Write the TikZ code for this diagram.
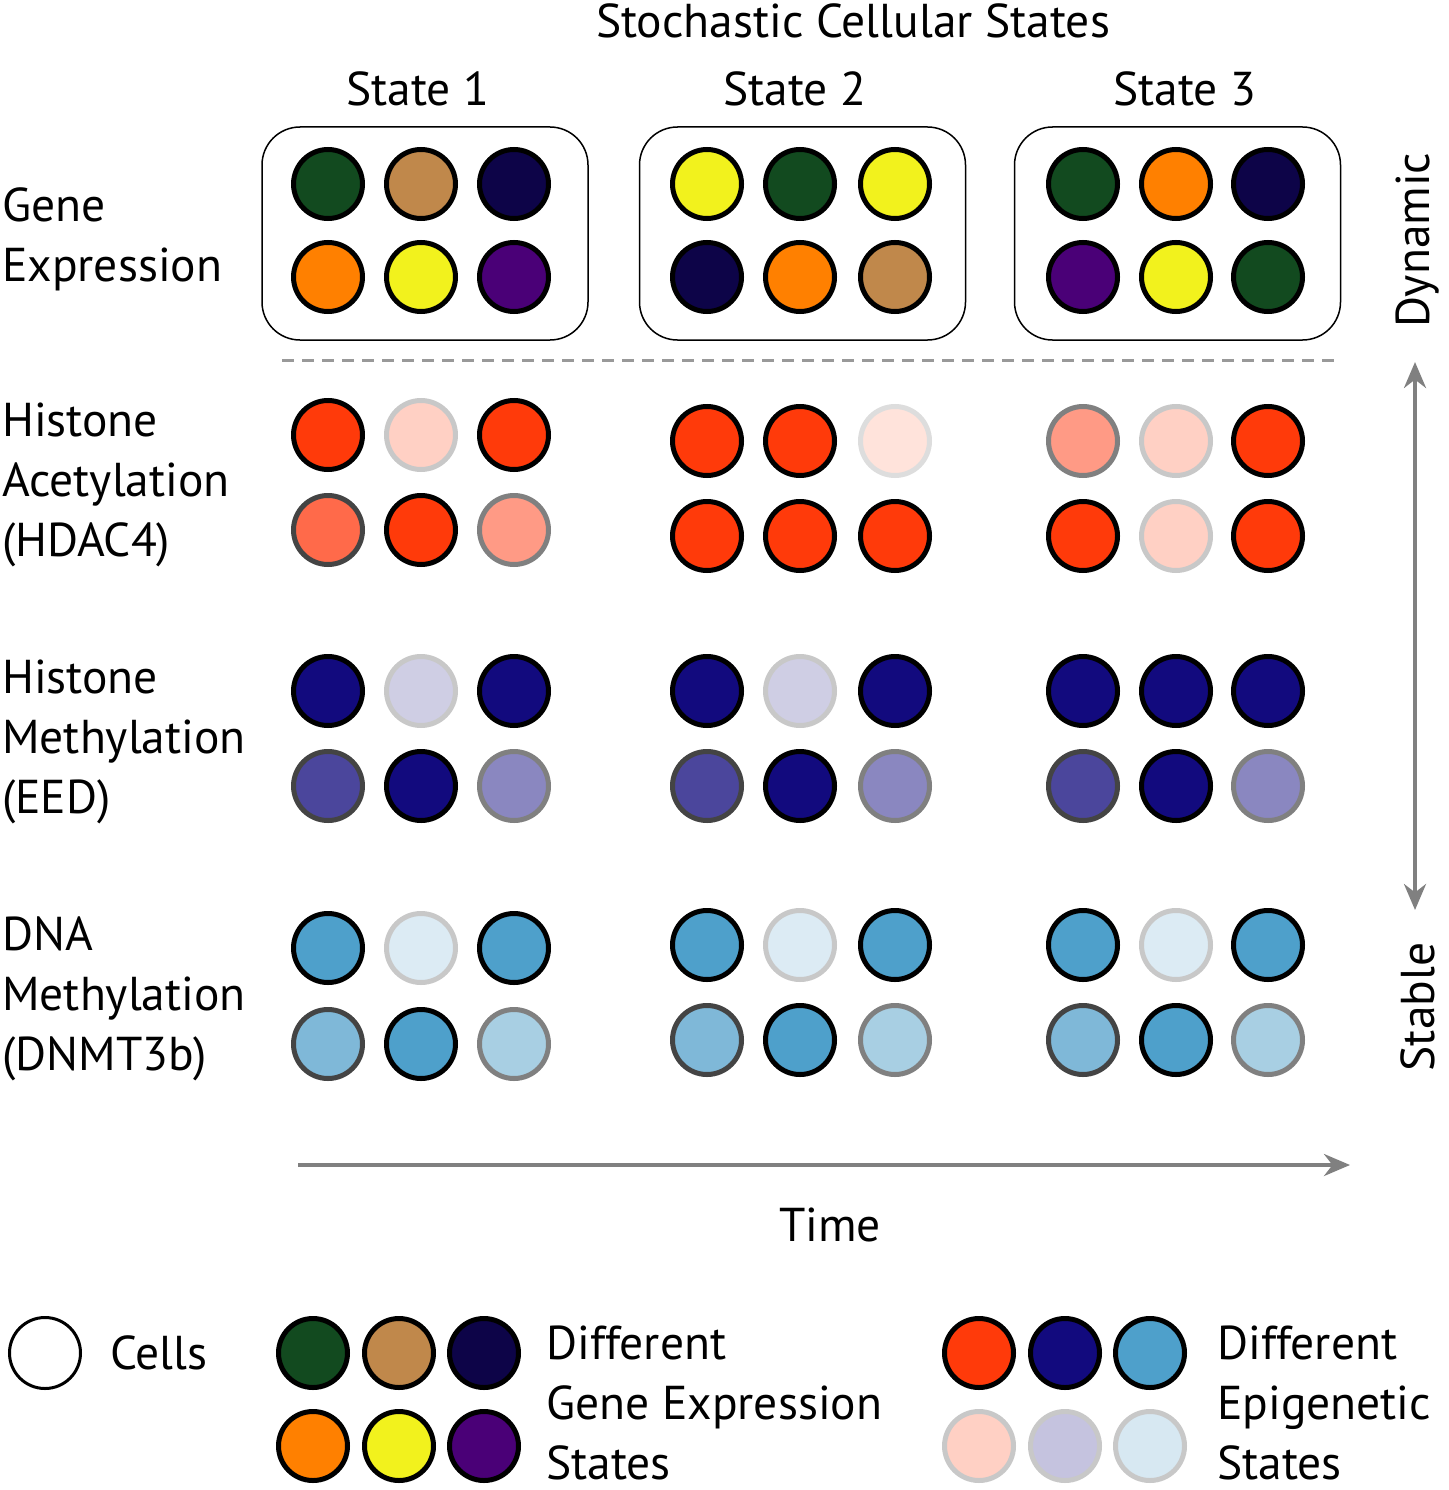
\documentclass[tikz,border=0pt]{standalone}
\usepackage{fontspec}
\setmainfont{PT Sans}
\usetikzlibrary{arrows.meta}
\definecolor{cG}{HTML}{124A1F}
\definecolor{cT}{HTML}{C0884B}
\definecolor{cN}{HTML}{0D0448}
\definecolor{cO}{HTML}{FF8000}
\definecolor{cY}{HTML}{F2F21D}
\definecolor{cP}{HTML}{4A0077}
\definecolor{acS}{HTML}{FF3A0A}
\definecolor{acM}{HTML}{FF6A4A}
\definecolor{acL}{HTML}{FF9A85}
\definecolor{acV}{HTML}{FFD0C4}
\definecolor{acVV}{HTML}{FFE3DB}
\definecolor{meS}{HTML}{120A7E}
\definecolor{meM}{HTML}{4B469C}
\definecolor{meL}{HTML}{8A87C0}
\definecolor{meV}{HTML}{CFCEE4}
\definecolor{dnS}{HTML}{4EA0CB}
\definecolor{dnM}{HTML}{7FB8D8}
\definecolor{dnL}{HTML}{A8CFE3}
\definecolor{dnV}{HTML}{DCEBF4}
\definecolor{bdM}{HTML}{444444}
\definecolor{bdL}{HTML}{808080}
\definecolor{bdV}{HTML}{C8C8C8}
\definecolor{bdVV}{HTML}{DDDDDD}
\definecolor{arr}{HTML}{808080}
\begin{document}
\begin{tikzpicture}[x=1pt,y=1pt,
  cell/.style={circle, minimum size=69pt, inner sep=0pt, line width=5pt},
  geG/.style={draw=black, fill=cG}, geT/.style={draw=black, fill=cT},
  geN/.style={draw=black, fill=cN}, geO/.style={draw=black, fill=cO},
  geY/.style={draw=black, fill=cY}, geP/.style={draw=black, fill=cP},
  acSs/.style={draw=black, fill=acS}, acMs/.style={draw=bdM, fill=acM},
  acLs/.style={draw=bdL, fill=acL}, acVs/.style={draw=bdV, fill=acV},
  acWs/.style={draw=bdVV, fill=acVV},
  meSs/.style={draw=black, fill=meS}, meMs/.style={draw=bdM, fill=meM},
  meLs/.style={draw=bdL, fill=meL}, meVs/.style={draw=bdV, fill=meV},
  dnSs/.style={draw=black, fill=dnS}, dnMs/.style={draw=bdM, fill=dnM},
  dnLs/.style={draw=bdL, fill=dnL}, dnVs/.style={draw=bdV, fill=dnV},
  lbl/.style={font=\fontsize{47.5}{56}\selectfont, inner sep=0pt},
  statebox/.style={draw=black, line width=1.5pt, rounded corners=38pt, minimum width=326pt, minimum height=213pt, inner sep=0pt},
  grayarrow/.style={draw=arr, line width=4pt, -{Stealth[length=26pt,width=22pt]}},
  grayarrows/.style={draw=arr, line width=4pt, {Stealth[length=26pt,width=22pt]}-{Stealth[length=26pt,width=22pt]}}
]
\useasboundingbox (0,0) rectangle (1448,-1490);

% titles
\node[lbl, anchor=base] (title) at (853,-38) {Stochastic Cellular States};
\node[lbl, anchor=base] (st1) at (418,-106) {State 1};
\node[lbl, anchor=base] (st2) at (795,-106) {State 2};
\node[lbl, anchor=base] (st3) at (1185,-106) {State 3};

% row labels
\node[lbl, anchor=base west] (l1a) at (2,-221) {Gene};
\node[lbl, anchor=base west] (l1b) at (2,-281) {Expression};
\node[lbl, anchor=base west] (l2a) at (2,-436) {Histone};
\node[lbl, anchor=base west] (l2b) at (2,-496) {Acetylation};
\node[lbl, anchor=base west] (l2c) at (2,-556) {(HDAC4)};
\node[lbl, anchor=base west] (l3a) at (2,-693) {Histone};
\node[lbl, anchor=base west] (l3b) at (2,-753) {Methylation};
\node[lbl, anchor=base west] (l3c) at (2,-813) {(EED)};
\node[lbl, anchor=base west] (l4a) at (2,-950) {DNA};
\node[lbl, anchor=base west] (l4b) at (2,-1010) {Methylation};
\node[lbl, anchor=base west] (l4c) at (2,-1070) {(DNMT3b)};

% state boxes
\node[statebox] (box1) at (425,-233.5) {};
\node[statebox] (box2) at (802.5,-233.5) {};
\node[statebox] (box3) at (1177.5,-233.5) {};

% gene expression cells
\foreach \n/\x/\y/\s in {a/328/184/geG, b/421/184/geT, c/514/184/geN, d/328/277/geO, e/421/277/geY, f/514/277/geP,
  g/707/184/geY, h/800/184/geG, i/895/184/geY, j/707/277/geN, k/800/277/geO, l/895/277/geT,
  m/1083/184/geG, n/1176/184/geO, o/1268/184/geN, p/1083/277/geP, q/1176/277/geY, r/1268/277/geG}
  \node[cell, \s] (ge\n) at (\x,-\y) {};

% dashed separator
\coordinate (d0) at (282,-360);
\coordinate (d1) at (1338,-360);
\draw[draw=bdL!80, line width=3pt, dash pattern=on 12pt off 8pt] (d0) -- (d1);

% histone acetylation
\foreach \n/\x/\y/\s in {a/328/435/acSs, b/421/435/acVs, c/514/435/acSs, d/328/530/acMs, e/421/530/acSs, f/514/530/acLs,
  g/707/441/acSs, h/800/441/acSs, i/895/441/acWs, j/707/536/acSs, k/800/536/acSs, l/895/536/acSs,
  m/1083/441/acLs, n/1176/441/acVs, o/1268/441/acSs, p/1083/536/acSs, q/1176/536/acVs, r/1268/536/acSs}
  \node[cell, \s] (ac\n) at (\x,-\y) {};

% histone methylation
\foreach \n/\x/\y/\s in {a/328/691/meSs, b/421/691/meVs, c/514/691/meSs, d/328/786/meMs, e/421/786/meSs, f/514/786/meLs,
  g/707/691/meSs, h/800/691/meVs, i/895/691/meSs, j/707/786/meMs, k/800/786/meSs, l/895/786/meLs,
  m/1083/691/meSs, n/1176/691/meSs, o/1268/691/meSs, p/1083/786/meMs, q/1176/786/meSs, r/1268/786/meLs}
  \node[cell, \s] (me\n) at (\x,-\y) {};

% DNA methylation
\foreach \n/\x/\y/\s in {a/328/948/dnSs, b/421/948/dnVs, c/514/948/dnSs, d/328/1044/dnMs, e/421/1044/dnSs, f/514/1044/dnLs,
  g/707/945/dnSs, h/800/945/dnVs, i/895/945/dnSs, j/707/1040/dnMs, k/800/1040/dnSs, l/895/1040/dnLs,
  m/1083/945/dnSs, n/1176/945/dnVs, o/1268/945/dnSs, p/1083/1040/dnMs, q/1176/1040/dnSs, r/1268/1040/dnLs}
  \node[cell, \s] (dn\n) at (\x,-\y) {};

% vertical arrow and labels
\coordinate (v0) at (1415,-910);
\coordinate (v1) at (1415,-362);
\draw[grayarrows] (v0) -- (v1);
\node[lbl, rotate=90] (dyn) at (1418,-240) {Dynamic};
\node[lbl, rotate=90] (stab) at (1418,-1007) {Stable};

% time arrow
\coordinate (t0) at (298,-1165);
\coordinate (t1) at (1350,-1165);
\draw[grayarrow] (t0) -- (t1);
\node[lbl, anchor=base] (time) at (830,-1241) {Time};

% legend
\node[cell, minimum size=71pt, line width=3pt, draw=black, fill=white] (lgcell) at (45,-1353) {};
\node[lbl, anchor=base west] (lgcells) at (110,-1369) {Cells};
\foreach \n/\x/\y/\s in {a/313/1353/geG, b/399/1353/geT, c/484/1353/geN, d/313/1446/geO, e/399/1446/geY, f/484/1446/geP}
  \node[cell, \s] (lg\n) at (\x,-\y) {};
\node[lbl, anchor=base west] (lgt1) at (546,-1359) {Different};
\node[lbl, anchor=base west] (lgt2) at (546,-1419) {Gene Expression};
\node[lbl, anchor=base west] (lgt3) at (546,-1479) {States};
\foreach \n/\x/\y/\s in {a/979/1353/acSs, b/1065/1353/meSs, c/1150/1353/dnSs}
  \node[cell, \s] (le\n) at (\x,-\y) {};
\node[cell, draw=bdV, fill=acV] (led) at (979,-1446) {};
\node[cell, draw=bdV, fill=meV!85!meL] (lee) at (1065,-1446) {};
\node[cell, draw=bdV, fill=dnV!90!dnL] (lef) at (1150,-1446) {};
\node[lbl, anchor=base west] (let1) at (1217,-1359) {Different};
\node[lbl, anchor=base west] (let2) at (1217,-1419) {Epigenetic};
\node[lbl, anchor=base west] (let3) at (1217,-1479) {States};
\end{tikzpicture}
\end{document}
